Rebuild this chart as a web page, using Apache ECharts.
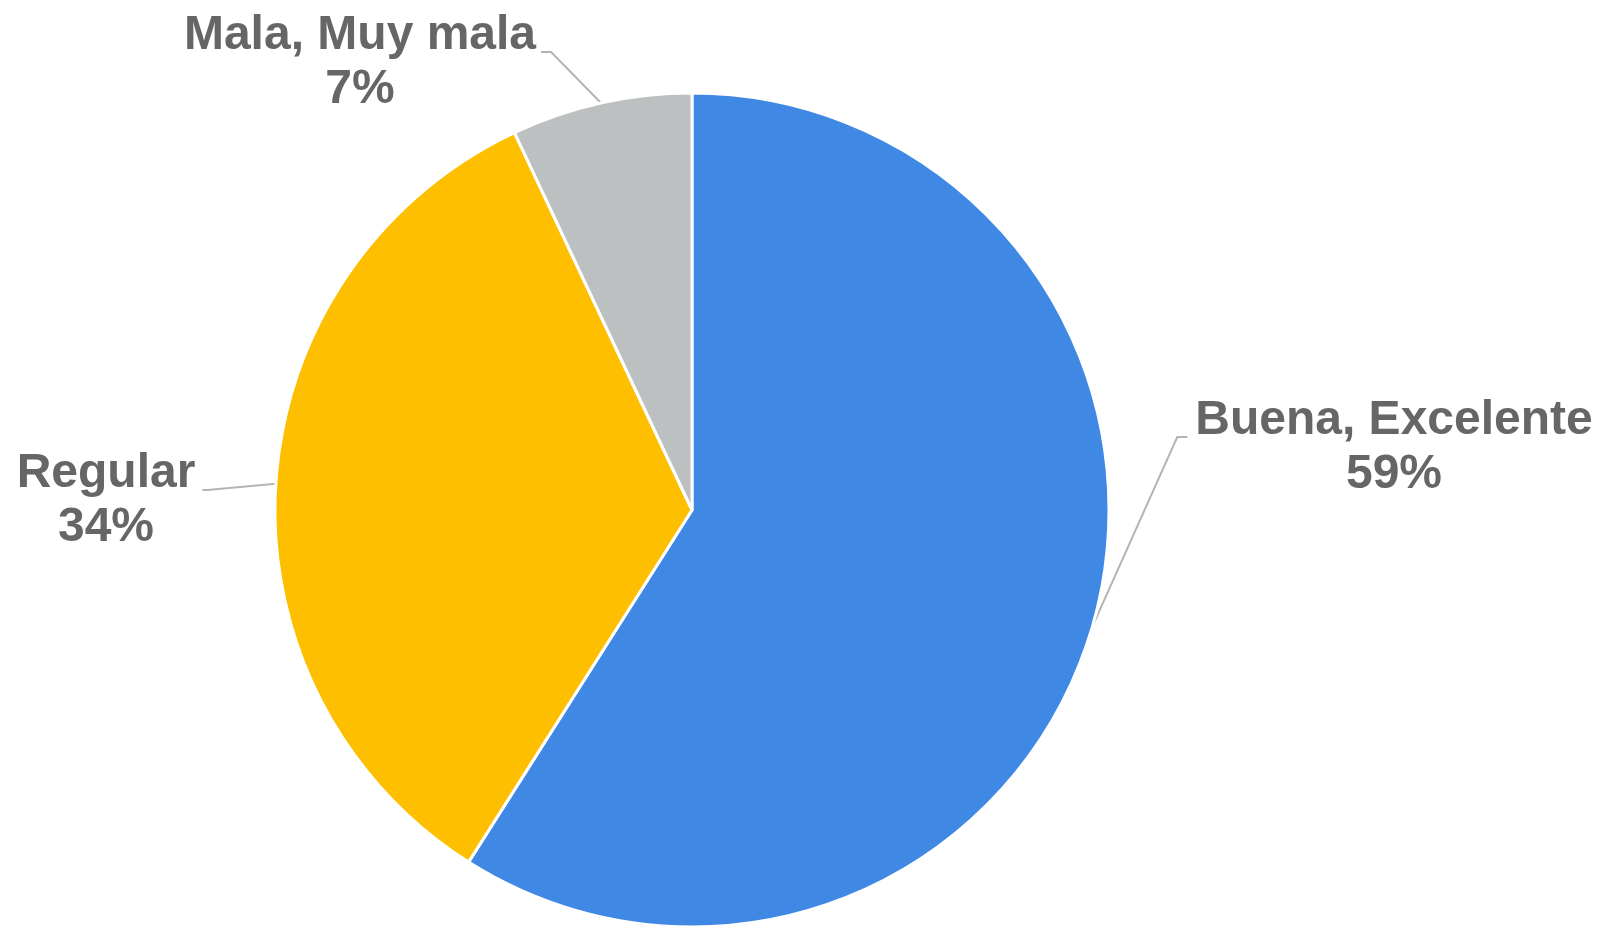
<!DOCTYPE html>
<html>
<head>
<meta charset="utf-8">
<script src="https://cdn.jsdelivr.net/npm/echarts@6/dist/echarts.min.js"></script>
<style>
html,body{margin:0;padding:0;background:#fff;}
#main{width:1598px;height:926px;}
</style>
</head>
<body>
<div id="main"></div>
<script>
// datos de la encuesta (porcentajes)
var categories = ["Buena, Excelente", "Regular", "Mala, Muy mala"];
var values = [59, 34, 7];

var palette = ["#3F89E5", "#FDBF00", "#BCC0C1"];

// centro del bloque de texto de cada etiqueta, en px
var labelPos = [[1394, 448], [106, 501], [360, 63]];

var seriesData = [];
for (var i = 0; i < categories.length; i++) {
	seriesData.push({name: categories[i], value: values[i]});
}

var myChart = echarts.init(document.getElementById("main"));
var option = {
	animation: false,
	color: palette,
	series: [{
		type: "pie",
		center: [692, 510],
		radius: 417,
		startAngle: 90,
		clockwise: true,
		data: seriesData,
		itemStyle: {borderColor: "#fff", borderWidth: 3},
		label: {
			show: true,
			position: "outside",
			formatter: "{b}\n{d}%",
			fontFamily: "Liberation Sans",
			fontWeight: "bold",
			fontSize: 48,
			lineHeight: 54,
			color: "#666666",
			align: "center"
		},
		labelLine: {
			show: true,
			length: 20,
			length2: 10,
			lineStyle: {color: "#B4B4B4", width: 2}
		},
		labelLayout: function (p) {
			var pos = labelPos[p.dataIndex];
			var w = p.labelRect.width;
			var start = p.labelLinePoints ? p.labelLinePoints[0] : null;
			var lineY = pos[1] - 11;
			var pts;
			if (p.dataIndex === 0) {
				// etiqueta a la derecha: la línea llega por la izquierda
				var left = pos[0] - w / 2;
				pts = [start, [left - 18, lineY], [left - 8, lineY]];
			} else {
				var right = pos[0] + w / 2;
				if (p.dataIndex === 1) {
					pts = [start, [right + 12, lineY], [right + 7, lineY]];
				} else {
					pts = [start, [right + 15, lineY], [right + 5, lineY]];
				}
			}
			var res = {x: pos[0], y: pos[1], align: "center", verticalAlign: "middle"};
			if (start) res.labelLinePoints = pts;
			return res;
		}
	}]
};
myChart.setOption(option);
</script>
</body>
</html>
